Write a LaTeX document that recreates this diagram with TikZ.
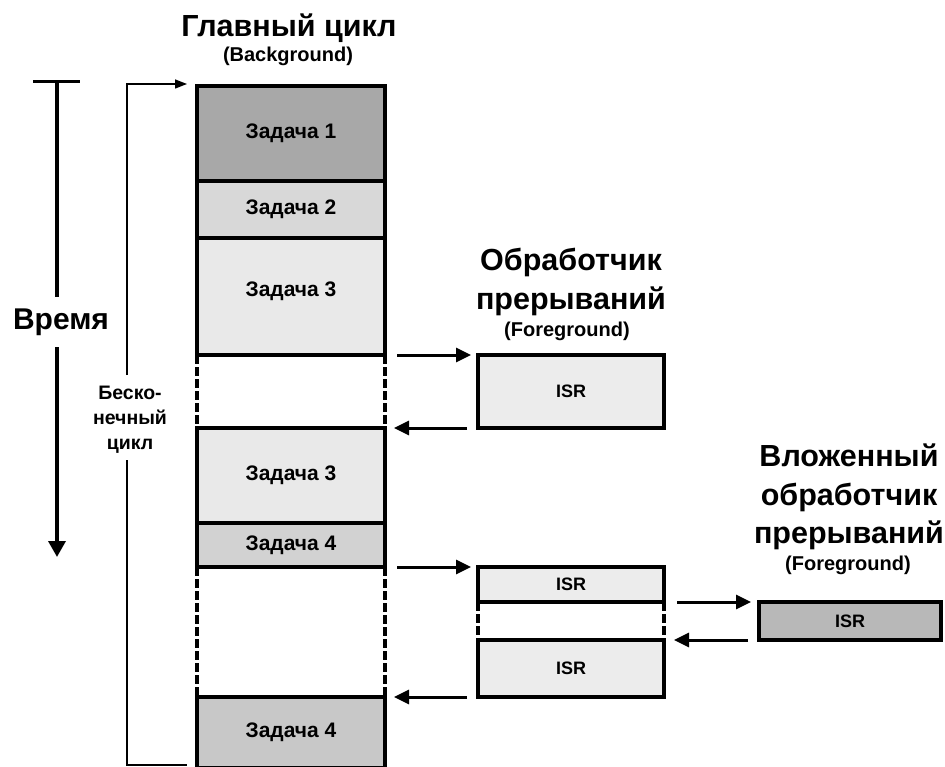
\documentclass[tikz,border=0pt]{standalone}
\usepackage{fontspec}
\setmainfont{Liberation Sans}
\usetikzlibrary{arrows.meta}
\definecolor{cA}{RGB}{168,168,168}
\definecolor{cB}{RGB}{216,216,216}
\definecolor{cC}{RGB}{233,233,233}
\definecolor{cD}{RGB}{210,210,210}
\definecolor{cE}{RGB}{200,200,200}
\definecolor{cI}{RGB}{236,236,236}
\definecolor{cN}{RGB}{184,184,184}
\tikzset{
  box/.style={draw=black, line width=3.4pt, rectangle, inner sep=0pt, outer sep=0pt, font=\bfseries\fontsize{21}{24}\selectfont},
  task/.style={box, minimum width=188pt},
  isrbox/.style={box, fill=cI, minimum width=186pt, font=\bfseries\fontsize{18}{21}\selectfont},
  dsh/.style={line width=3.4pt, dash pattern=on 9pt off 3pt},
  arr/.style={line width=3pt, -{Triangle[length=15pt,width=14pt]}},
  thinarr/.style={line width=1.4pt, -{Triangle[length=12pt,width=9pt]}},
  big/.style={font=\bfseries\fontsize{30.5}{38.5}\selectfont, align=center, inner sep=0pt},
  small/.style={font=\bfseries\fontsize{20}{23}\selectfont, inner sep=0pt},
}
\begin{document}
\begin{tikzpicture}[x=1pt,y=-1pt]
\useasboundingbox[fill=white] (0,0) rectangle (945,767);
% titles
\node[big] (tmain) at (289,28) {Главный цикл};
\node[small] (tmainf) at (288,56) {(Background)};
\node[big] (tisr) at (571,282) {Обработчик\\прерываний};
\node[small] (tisrf) at (567,331) {(Foreground)};
\node[big] (tnest) at (849,497) {Вложенный\\обработчик\\прерываний};
\node[small] (tnestf) at (848,565) {(Foreground)};
% main column
\node[task, fill=cA, minimum height=95pt] (t1) at (291,133.5) {Задача 1};
\node[task, fill=cB, minimum height=57pt] (t2) at (291,209.5) {Задача 2};
\node[task, fill=cC, minimum height=117pt] (t3) at (291,296.5) {\raisebox{15pt}{Задача 3}};
\node[task, fill=cC, minimum height=95pt] (t3b) at (291,475.5) {Задача 3};
\node[task, fill=cD, minimum height=44pt] (t4) at (291,545) {Задача 4};
\node[task, fill=cE, minimum height=71pt] (t4b) at (291,732.5) {Задача 4};
\draw[dsh] (t3.south west) -- (t3b.north west);
\draw[dsh] (t3.south east) -- (t3b.north east);
\draw[dsh] (t4.south west) -- (t4b.north west);
\draw[dsh] (t4.south east) -- (t4b.north east);
% ISR 1
\node[isrbox, minimum height=73pt] (isr1) at (571,391.5) {ISR};
% ISR 2
\node[isrbox, minimum height=35pt] (isr2a) at (571,584.5) {ISR};
\node[isrbox, minimum height=57pt] (isr2b) at (571,668.5) {ISR};
\draw[dsh] (isr2a.south west) -- (isr2b.north west);
\draw[dsh] (isr2a.south east) -- (isr2b.north east);
% nested ISR
\node[box, fill=cN, minimum width=182pt, minimum height=38pt, font=\bfseries\fontsize{18}{21}\selectfont] (nest) at (850,621) {ISR};
% arrows
\draw[arr, shorten <=12pt, shorten >=7pt] (t3.south east) -- (isr1.north west);
\draw[arr, shorten <=11pt, shorten >=9pt] (isr1.south west) -- (t3b.north east);
\draw[arr, shorten <=12pt, shorten >=7pt] (t4.south east) -- (isr2a.north west);
\draw[arr, shorten <=11pt, shorten >=9pt] (isr2b.south west) -- (t4b.north east);
\draw[arr, shorten <=13pt, shorten >=8pt] (isr2a.south east) -- (nest.north west);
\draw[arr, shorten <=11pt, shorten >=10pt] (nest.south west) -- (isr2b.north east);
% time axis
\node[font=\bfseries\fontsize{30}{34}\selectfont, inner sep=0pt] (time) at (61,322) {Время};
\coordinate (tt) at (57,82);
\draw[line width=3pt] (33,82) -- (80,82);
\draw[line width=3.4pt] (tt) -- (57,297);
\draw[line width=3.4pt, -{Triangle[length=16pt,width=17pt]}] (57,347) -- (57,557);
% loop
\node[font=\bfseries\fontsize{19.5}{25}\selectfont, align=center, inner sep=0pt] (loop) at (130,420) {Беско-\\нечный\\цикл};
\coordinate (lt) at (127,84);
\coordinate (lb) at (127,765);
\draw[thinarr] (127,375) -- (lt) -- (187,84);
\draw[line width=1.4pt] (127,460) -- (lb) -- (187,765);
\end{tikzpicture}
\end{document}
